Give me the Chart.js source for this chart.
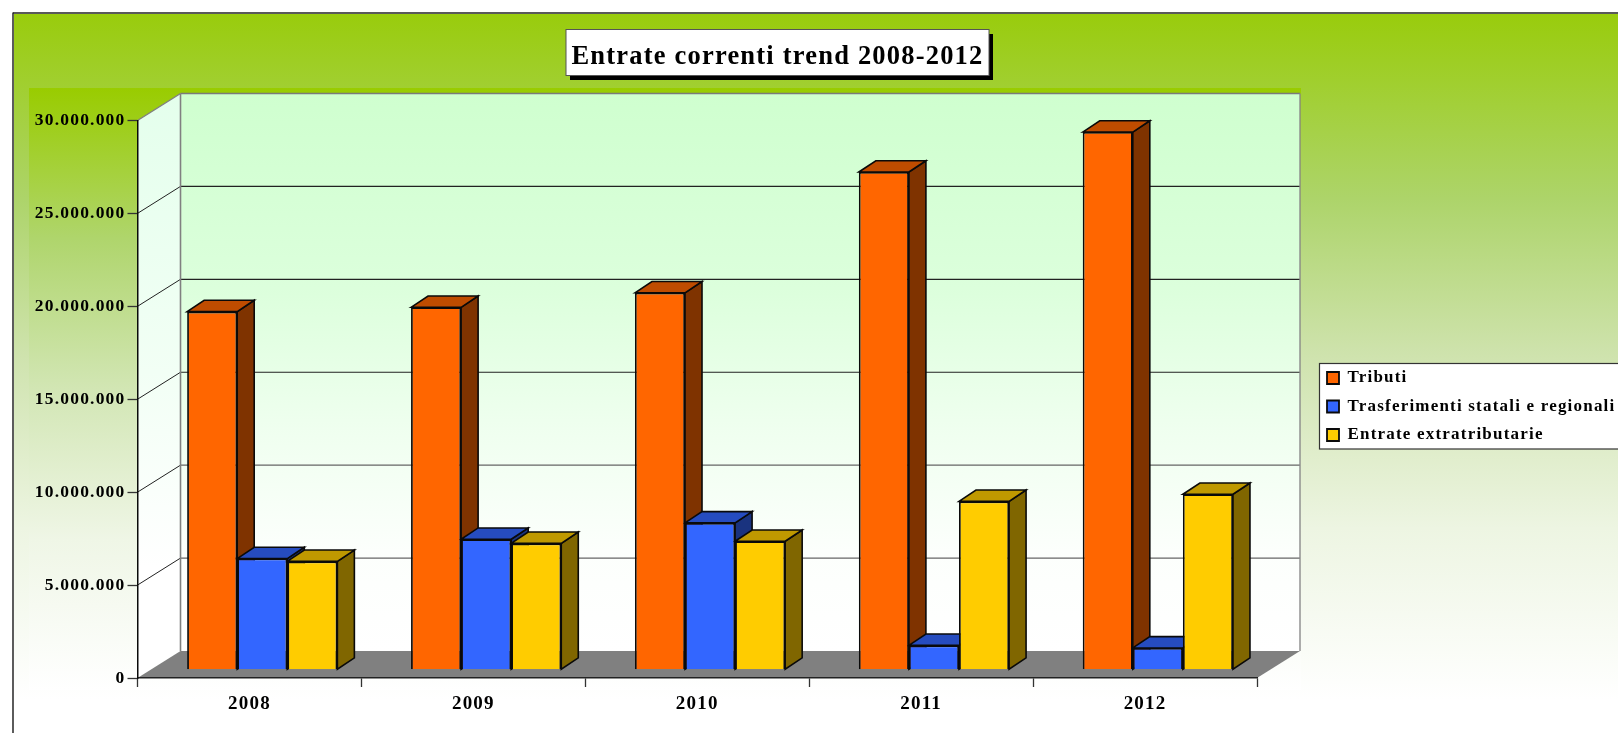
<!DOCTYPE html>
<html>
<head>
<meta charset="utf-8">
<title>Entrate correnti trend 2008-2012</title>
<script src="https://cdn.jsdelivr.net/npm/chart.js@4/dist/chart.umd.min.js"></script>
<style>
    html, body { margin: 0; padding: 0; background: #fff; overflow: hidden; }
    canvas { display: block; }
</style>
</head>
<body>
<canvas id="entrateChart" width="1618" height="733"></canvas>
<script>
// Values
const years = ['2008', '2009', '2010', '2011', '2012'];
const tributi = [19270000, 19500000, 20280000, 26780000, 28930000];
const trasferimenti = [5980000, 7020000, 7900000, 1310000, 1170000];
const extratributarie = [5830000, 6800000, 6910000, 9060000, 9440000];
const yTickLabels = ['0', '5.000.000', '10.000.000', '15.000.000', '20.000.000', '25.000.000', '30.000.000'];
const seriesNames = ['Tributi', 'Trasferimenti statali e regionali', 'Entrate extratributarie'];
const chartTitle = 'Entrate correnti trend 2008-2012';

const FONT = '"Liberation Serif", "Times New Roman", serif';
const INK = '#0A0A0A';

// Depth of the floor and of the bars, and where the bars stand on the floor
const WALL_DX = 43, WALL_DY = 27;
const BAR_DX = 17, BAR_DY = 11.3;
const BAR_SHIFT_X = 12.8, BAR_SHIFT_Y = 8.3;

const barFaces = [
    { front: '#FF6600', side: '#7F3300', top: '#BF4C00' },
    { front: '#3366FF', side: '#1A337F', top: '#264CBF' },
    { front: '#FFCC00', side: '#806600', top: '#BF9900' }
];

function poly(ctx, pts, fill, stroke, width) {
    ctx.beginPath();
    pts.forEach((p, i) => i ? ctx.lineTo(p[0], p[1]) : ctx.moveTo(p[0], p[1]));
    ctx.closePath();
    if (fill) { ctx.fillStyle = fill; ctx.fill(); }
    if (stroke) { ctx.strokeStyle = stroke; ctx.lineWidth = width; ctx.stroke(); }
}

function line(ctx, x1, y1, x2, y2, color, width) {
    ctx.beginPath();
    ctx.moveTo(x1, y1);
    ctx.lineTo(x2, y2);
    ctx.strokeStyle = color;
    ctx.lineWidth = width;
    ctx.stroke();
}

function vGradient(ctx, y1, y2, stops) {
    const g = ctx.createLinearGradient(0, y1, 0, y2);
    stops.forEach(s => g.addColorStop(s[0], s[1]));
    return g;
}

const scenePlugin = {
    id: 'scene',
    afterLayout(chart) {
        // title and legend sit where the original has them, not in the layout flow
        const t = chart.titleBlock;
        t.left = 566; t.right = 989; t.top = 41.5; t.bottom = 71.5;
        const l = chart.legend;
        l.left = 1315.5; l.right = 1760; l.top = 358; l.bottom = 470;
        l.width = l.right - l.left; l.height = l.bottom - l.top;
    },
    beforeDraw(chart) {
        const ctx = chart.ctx;
        const { left, right } = chart.chartArea;
        const yScale = chart.scales.y;
        const yZero = yScale.getPixelForValue(0);
        const yMax = yScale.getPixelForValue(30000000);

        // the original text is stretched wide, letter spacing gets close to it
        ctx.letterSpacing = '1.2px';

        // page and panel
        ctx.fillStyle = '#fff';
        ctx.fillRect(0, 0, chart.width, chart.height);
        ctx.fillStyle = vGradient(ctx, 14, 700, [[0, '#99CC0C'], [0.27, '#ADD46A'], [0.5, '#CFE3AE'], [0.75, '#EDF5E2'], [1, '#FFFFFF']]);
        ctx.fillRect(14, 14, chart.width, chart.height);
        line(ctx, 13, 12.5, 13, chart.height, '#333', 1.6);
        line(ctx, 13, 13, chart.width, 13, '#222', 1.6);

        // plot slab
        ctx.fillStyle = vGradient(ctx, 88, 690, [[0, '#99CC00'], [0.25, '#AFD56C'], [0.5, '#D2E6B4'], [0.75, '#EFF6E6'], [1, '#FFFFFF']]);
        ctx.fillRect(29, 88, 1272, 602);

        // walls and floor
        const wallL = left + WALL_DX, wallR = right + WALL_DX;
        const wallT = yMax - WALL_DY, wallB = yZero - WALL_DY;
        ctx.fillStyle = vGradient(ctx, wallT, wallB, [[0, '#CFFFCF'], [0.35, '#DCFFDC'], [0.6, '#EFFFEF'], [0.82, '#FCFFFC'], [1, '#FFFFFF']]);
        ctx.fillRect(wallL, wallT, wallR - wallL, wallB - wallT);
        poly(ctx, [[left, yMax], [wallL, wallT], [wallL, wallB], [left, yZero]],
            vGradient(ctx, wallT, wallB, [[0, '#E4FFEC'], [0.5, '#F2FFF5'], [0.85, '#FFFFFF']]));
        poly(ctx, [[left, yZero], [wallL, wallB], [wallR, wallB], [right, yZero]], '#808080');

        // grid on the back and left walls
        yScale.ticks.forEach(t => {
            if (t.value === 0 || t.value === 30000000) return;
            const y = yScale.getPixelForValue(t.value);
            line(ctx, left, y, wallL, y - WALL_DY, '#222', 1);
            line(ctx, wallL, y - WALL_DY, wallR, y - WALL_DY, t.value < 15000000 ? '#666' : '#222', 1.2);
        });

        // wall edges
        line(ctx, left, yMax, wallL, wallT, '#808080', 1.4);
        line(ctx, wallL, wallT, wallR, wallT, '#7A7A7A', 1.6);
        line(ctx, wallL, wallT, wallL, wallB, '#808080', 1.6);
        line(ctx, wallR, wallT, wallR, wallB, '#8A8A8A', 1.4);

        // title and legend boxes
        ctx.fillStyle = '#000';
        ctx.fillRect(570, 34, 423, 46);
        ctx.fillStyle = '#fff';
        ctx.fillRect(566, 29.5, 423, 46);
        ctx.strokeStyle = '#555';
        ctx.lineWidth = 1;
        ctx.strokeRect(566, 29.5, 423, 46);
        ctx.fillStyle = '#fff';
        ctx.fillRect(1319.5, 363.5, 320, 85.5);
        ctx.strokeStyle = '#333';
        ctx.lineWidth = 1.2;
        ctx.strokeRect(1319.5, 363.5, 320, 85.5);
    },
    beforeDatasetsDraw(chart) {
        const ctx = chart.ctx;
        ctx.save();
        // bars stand a little way back on the floor, behind the axis plane
        ctx.translate(BAR_SHIFT_X, -BAR_SHIFT_Y);
        ctx.lineJoin = 'miter';
        barFaces.forEach((face, i) => {
            chart.getDatasetMeta(i).data.forEach(bar => {
                const l = bar.x - bar.width / 2, r = bar.x + bar.width / 2;
                poly(ctx, [[r, bar.y], [r + BAR_DX, bar.y - BAR_DY], [r + BAR_DX, bar.base - BAR_DY], [r, bar.base]], face.side, INK, 1.6);
                poly(ctx, [[l, bar.y], [l + BAR_DX, bar.y - BAR_DY], [r + BAR_DX, bar.y - BAR_DY], [r, bar.y]], face.top, INK, 1.6);
            });
        });
    },
    afterDatasetsDraw(chart) {
        chart.ctx.restore();
    }
};

document.addEventListener('DOMContentLoaded', function() {
    const ctx = document.getElementById('entrateChart');
    const values = [tributi, trasferimenti, extratributarie];

    new Chart(ctx, {
        type: 'bar',
        data: {
            labels: years,
            datasets: values.map((data, i) => ({
                label: seriesNames[i],
                data: data,
                backgroundColor: barFaces[i].front,
                borderColor: INK,
                borderWidth: 1.8,
                barPercentage: 1,
                categoryPercentage: 0.671
            }))
        },
        options: {
            responsive: false,
            animation: false,
            events: [],
            layout: {
                padding: { left: 29, top: 90, right: 361, bottom: 15 }
            },
            scales: {
                x: {
                    afterFit: scale => { scale.height = 40; },
                    border: { color: '#222', width: 1.4 },
                    grid: { drawOnChartArea: false, tickLength: 9, tickColor: '#333', tickWidth: 1.3 },
                    ticks: { color: '#000', padding: 6, maxRotation: 0, font: { family: FONT, size: 19, weight: 'bold' } }
                },
                y: {
                    min: 0,
                    max: 30000000,
                    afterFit: scale => { scale.width = 108.5; },
                    border: { color: INK, width: 1.5 },
                    grid: { drawOnChartArea: false, tickLength: 10, tickColor: '#333', tickWidth: 1.3 },
                    ticks: {
                        stepSize: 5000000,
                        color: '#000',
                        padding: 2,
                        font: { family: FONT, size: 17.5, weight: 'bold' },
                        callback: (value, i) => yTickLabels[i]
                    }
                }
            },
            plugins: {
                title: {
                    display: true,
                    text: chartTitle,
                    color: '#000',
                    padding: 0,
                    font: { family: FONT, size: 26.5, weight: 'bold', lineHeight: 1.15 }
                },
                legend: {
                    position: 'chartArea',
                    align: 'start',
                    labels: {
                        color: '#000',
                        boxWidth: 12,
                        boxHeight: 12,
                        padding: 11.5,
                        font: { family: FONT, size: 17, weight: 'bold' }
                    }
                },
                tooltip: { enabled: false }
            }
        },
        plugins: [scenePlugin]
    });
});
</script>
</body>
</html>
